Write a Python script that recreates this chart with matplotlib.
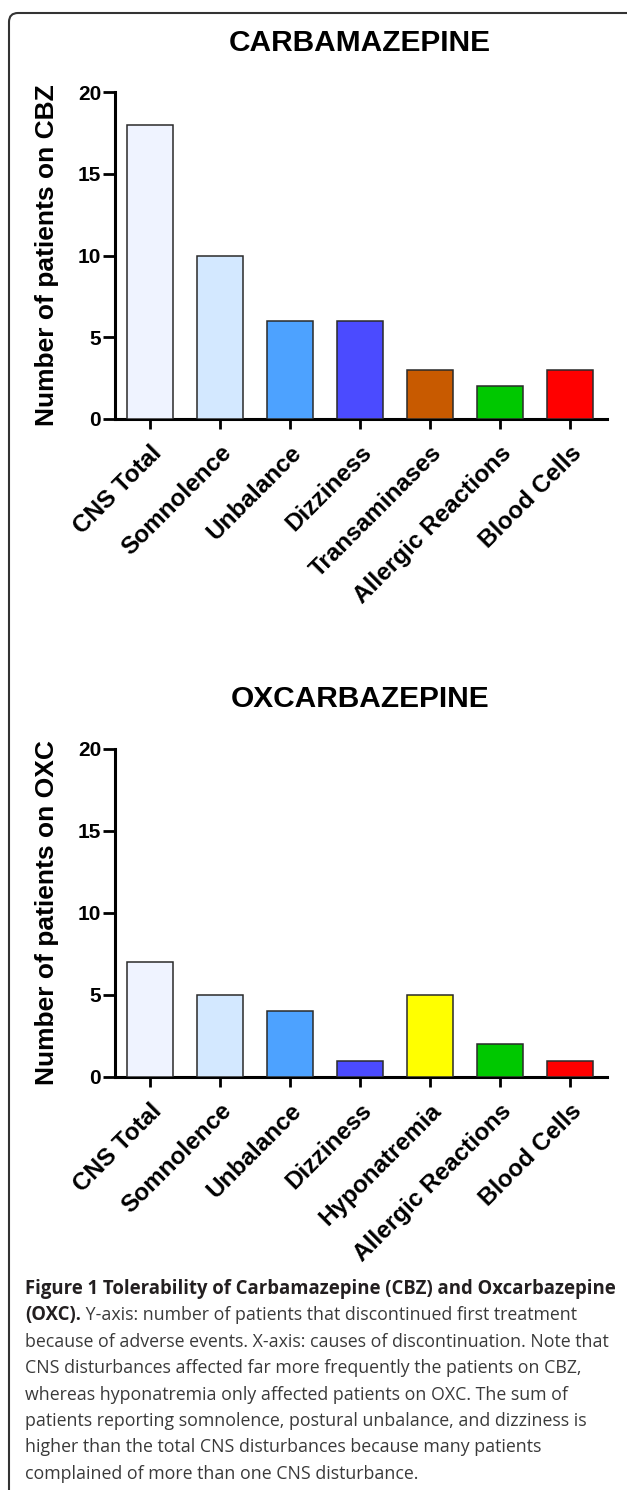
import matplotlib
matplotlib.use("Agg")
import matplotlib.pyplot as plt
from matplotlib.patches import FancyBboxPatch
from matplotlib.transforms import IdentityTransform

# ---- data ----
cats_cbz = ["CNS Total", "Somnolence", "Unbalance", "Dizziness",
            "Transaminases", "Allergic Reactions", "Blood Cells"]
vals_cbz = [18, 10, 6, 6, 3, 2, 3]
cols_cbz = ["#EFF3FF", "#D3E8FF", "#4DA2FF", "#4B4BFF", "#C85A00", "#00C800", "#FF0000"]

cats_oxc = ["CNS Total", "Somnolence", "Unbalance", "Dizziness",
            "Hyponatremia", "Allergic Reactions", "Blood Cells"]
vals_oxc = [7, 5, 4, 1, 5, 2, 1]
cols_oxc = ["#EFF3FF", "#D3E8FF", "#4DA2FF", "#4B4BFF", "#FFFF00", "#00C800", "#FF0000"]

yticks = [0, 5, 10, 15, 20]

caption_bold_1 = "Figure 1 Tolerability of Carbamazepine (CBZ) and Oxcarbazepine"
caption_bold_2 = "(OXC)."
caption_lines = [
    " Y-axis: number of patients that discontinued first treatment",
    "because of adverse events. X-axis: causes of discontinuation. Note that",
    "CNS disturbances affected far more frequently the patients on CBZ,",
    "whereas hyponatremia only affected patients on OXC. The sum of",
    "patients reporting somnolence, postural unbalance, and dizziness is",
    "higher than the total CNS disturbances because many patients",
    "complained of more than one CNS disturbance.",
]

W, H = 627, 1490
plt.rcParams['font.family'] = ['Liberation Sans', 'DejaVu Sans']
fig = plt.figure(figsize=(W / 100, H / 100), dpi=100)

# rounded frame (opens to the right and bottom)
frame = FancyBboxPatch((9, -60), 800, H - 13 + 60,
                       boxstyle="round,pad=0,rounding_size=9",
                       transform=IdentityTransform(), fill=False,
                       edgecolor="#333333", linewidth=1.5)
fig.patches.append(frame)


def draw_panel(rect, cats, vals, cols, title, ylabel, title_y):
    ax = fig.add_axes(rect)
    x = range(len(cats))
    ax.bar(x, vals, width=0.66, color=cols, edgecolor="#2a2a2a", linewidth=1.1, zorder=3)
    ax.set_xlim(-0.5, 6.53)
    ax.set_ylim(0, 20)
    ax.set_yticks(yticks)
    ax.set_xticks(list(x))
    ax.set_xticklabels(cats, rotation=45, ha="right", rotation_mode="anchor",
                       fontsize=17.5, fontweight="bold")
    for lab in ax.get_yticklabels():
        lab.set_fontweight("bold")
    ax.tick_params(axis="y", direction="out", length=9, width=2, pad=1, labelsize=15)
    ax.tick_params(axis="x", direction="out", length=7, width=2, pad=9)
    for s in ["top", "right"]:
        ax.spines[s].set_visible(False)
    for s in ["left", "bottom"]:
        ax.spines[s].set_linewidth(2.2)
    ax.set_ylabel(ylabel, fontsize=19, fontweight="bold")
    ax.yaxis.set_label_coords(-0.114, 0.5)
    fig.text(360 / W, 1 - title_y / H, title, ha="center", va="center",
             fontsize=21.5, fontweight="bold")
    return ax


draw_panel([115 / W, 1 - 419 / H, 492 / W, 327 / H], cats_cbz, vals_cbz, cols_cbz,
           "CARBAMAZEPINE", "Number of patients on CBZ", 43)
draw_panel([115 / W, 1 - 1077 / H, 492 / W, 328 / H], cats_oxc, vals_oxc, cols_oxc,
           "OXCARBAZEPINE", "Number of patients on OXC", 699)

# caption: sizes picked so the widest bold / regular lines span the text column
cap_font = "Open Sans"
cap_x = 25 / W
base0 = 1294
step = 26.4
renderer = fig.canvas.get_renderer()
t1 = fig.text(cap_x, 1 - base0 / H, caption_bold_1, family=cap_font, fontweight="bold",
              fontsize=13, va="baseline", color="#231F20")
bold_size = 13 * 585 / t1.get_window_extent(renderer).width
t1.set_fontsize(bold_size)
probe = fig.text(0, 0, caption_lines[1], family=cap_font, fontsize=13)
reg_size = 13 * 580 / probe.get_window_extent(renderer).width
probe.remove()

t2 = fig.text(cap_x, 1 - (base0 + step) / H, caption_bold_2, family=cap_font,
              fontweight="bold", fontsize=bold_size, va="baseline", color="#231F20")
bb = t2.get_window_extent(renderer)
for i, line in enumerate(caption_lines):
    xx = bb.x1 / W if i == 0 else cap_x
    fig.text(xx, 1 - (base0 + step * (i + 1)) / H, line, family=cap_font,
             fontsize=reg_size, va="baseline", color="#3a3a3a")

fig.savefig("out.png", dpi=100)
